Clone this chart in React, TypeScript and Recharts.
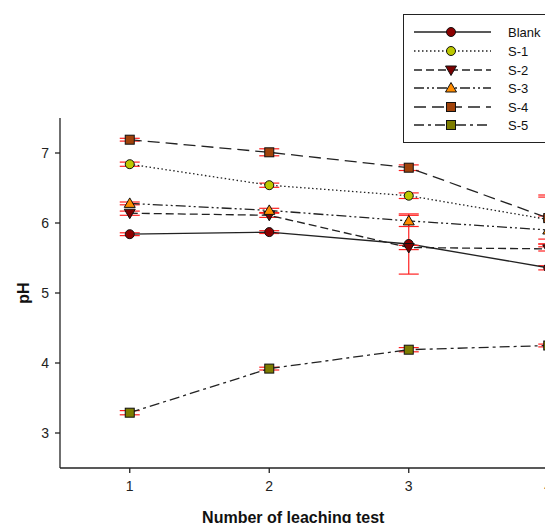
import { ErrorBar, Label, Line, LineChart, XAxis, YAxis } from 'recharts'

const TESTS = [1, 2, 3, 4]

const BLANK = [5.84, 5.87, 5.7, 5.36]
const BLANK_ERR = [0.02, 0.02, 0.43, 0.03]
const S1 = [6.84, 6.54, 6.39, 6.05]
const S1_ERR = [0.03, 0.03, 0.04, 0.35]
const S2 = [6.14, 6.11, 5.65, 5.63]
const S2_ERR = [0.03, 0.03, 0.03, 0.03]
const S3 = [6.28, 6.18, 6.03, 5.9]
const S3_ERR = [0.02, 0.03, 0.08, 0.2]
const S4 = [7.19, 7.01, 6.79, 6.07]
const S4_ERR = [0.02, 0.05, 0.04, 0.3]
const S5 = [3.29, 3.92, 4.19, 4.25]
const S5_ERR = [0.03, 0.02, 0.03, 0.02]

const Y_TICKS = [3, 4, 5, 6, 7]

type Shape = 'circle' | 'square' | 'triangle' | 'triangleDown'

const SERIES: Array<{
  key: string
  name: string
  values: number[]
  errors: number[]
  fill: string
  shape: Shape
  dash?: string
}> = [
  { key: 'blank', name: 'Blank', values: BLANK, errors: BLANK_ERR, fill: '#8b0000', shape: 'circle' },
  { key: 's1', name: 'S-1', values: S1, errors: S1_ERR, fill: '#bcc800', shape: 'circle', dash: '1.5 2.5' },
  { key: 's2', name: 'S-2', values: S2, errors: S2_ERR, fill: '#7a0000', shape: 'triangleDown', dash: '8 4' },
  { key: 's3', name: 'S-3', values: S3, errors: S3_ERR, fill: '#ff8c00', shape: 'triangle', dash: '10 3 2 3 2 3' },
  { key: 's4', name: 'S-4', values: S4, errors: S4_ERR, fill: '#a0420a', shape: 'square', dash: '12 6' },
  { key: 's5', name: 'S-5', values: S5, errors: S5_ERR, fill: '#7d7d00', shape: 'square', dash: '10 4 3 4' },
]

const data = TESTS.map((x, i) => {
  const row: Record<string, number> = { x }
  SERIES.forEach((s) => {
    row[s.key] = s.values[i]
    row[`${s.key}Err`] = s.errors[i]
  })
  return row
})

const FONT = '"Liberation Sans", Arial, sans-serif'
const INK = '#222'

function Marker({ cx, cy, shape, fill }: { cx: number; cy: number; shape: Shape; fill: string }) {
  const common = { fill, stroke: '#111', strokeWidth: 1 }
  if (shape === 'circle') return <circle cx={cx} cy={cy} r={4.5} {...common} />
  if (shape === 'square') return <rect x={cx - 4.5} y={cy - 4.5} width={9} height={9} {...common} />
  if (shape === 'triangle')
    return <polygon points={`${cx},${cy - 5.5} ${cx + 5.5},${cy + 4} ${cx - 5.5},${cy + 4}`} {...common} />
  return <polygon points={`${cx},${cy + 5.5} ${cx + 5.5},${cy - 4} ${cx - 5.5},${cy - 4}`} {...common} />
}

function LegendBox() {
  const rowY = [18, 37, 56, 74, 93, 111]
  return (
    <div
      style={{
        position: 'absolute',
        left: 403,
        top: 14,
        width: 160,
        height: 129,
        border: `1.5px solid ${INK}`,
        boxSizing: 'border-box',
        background: '#fff',
      }}
    >
      <svg width={160} height={128} style={{ position: 'absolute', left: -1.5, top: -1.5 }}>
        {SERIES.map((s, i) => (
          <g key={s.key}>
            <line
              x1={11}
              x2={88}
              y1={rowY[i]}
              y2={rowY[i]}
              stroke={INK}
              strokeWidth={1.3}
              strokeDasharray={s.dash}
            />
            <Marker cx={48} cy={rowY[i]} shape={s.shape} fill={s.fill} />
            <text x={105} y={rowY[i] + 4.5} fontSize={13} fontFamily={FONT} fill="#111">
              {s.name}
            </text>
          </g>
        ))}
      </svg>
    </div>
  )
}

export default function App() {
  return (
    <div
      style={{
        position: 'fixed',
        left: 0,
        top: 0,
        width: 545,
        height: 523,
        overflow: 'hidden',
        background: '#fff',
        fontFamily: FONT,
      }}
    >
      <LineChart width={640} height={523} data={data} margin={{ top: 118, right: 22, bottom: 15, left: 0 }}>
        <XAxis
          type="number"
          dataKey="x"
          domain={[0.5, 4.5]}
          ticks={TESTS}
          height={40}
          stroke={INK}
          strokeWidth={1.3}
          tickSize={5}
          tickMargin={8}
          tick={{ fill: INK, fontSize: 14, fontFamily: FONT }}
        >
          <Label
            content={({ viewBox }: any) => (
              <text
                x={viewBox.x + viewBox.width * 0.418}
                y={viewBox.y + viewBox.height + 15}
                textAnchor="middle"
                fontSize={16}
                fontWeight="bold"
                fontFamily={FONT}
                fill="#111"
              >
                Number of leaching test
              </text>
            )}
          />
        </XAxis>
        <YAxis
          type="number"
          domain={[2.5, 7.5]}
          ticks={Y_TICKS}
          width={60}
          stroke={INK}
          strokeWidth={1.3}
          tickSize={5}
          tickMargin={6}
          tick={{ fill: INK, fontSize: 14, fontFamily: FONT }}
        >
          <Label
            content={({ viewBox }: any) => {
              const cx = viewBox.x + 23
              const cy = viewBox.y + viewBox.height / 2
              return (
                <text
                  x={cx}
                  y={cy}
                  transform={`rotate(-90 ${cx} ${cy})`}
                  textAnchor="middle"
                  dominantBaseline="central"
                  fontSize={16}
                  fontWeight="bold"
                  fontFamily={FONT}
                  fill="#111"
                >
                  pH
                </text>
              )
            }}
          />
        </YAxis>
        {SERIES.map((s) => (
          <Line
            key={s.key}
            dataKey={s.key}
            name={s.name}
            type="linear"
            stroke={INK}
            strokeWidth={1.3}
            strokeDasharray={s.dash}
            isAnimationActive={false}
            activeDot={false}
            dot={(p: any) => (
              <Marker key={`${s.key}-${p.index}`} cx={p.cx} cy={p.cy} shape={s.shape} fill={s.fill} />
            )}
          >
            <ErrorBar dataKey={`${s.key}Err`} direction="y" width={10} stroke="#ff2020" strokeWidth={1.2} />
          </Line>
        ))}
      </LineChart>
      <LegendBox />
    </div>
  )
}
